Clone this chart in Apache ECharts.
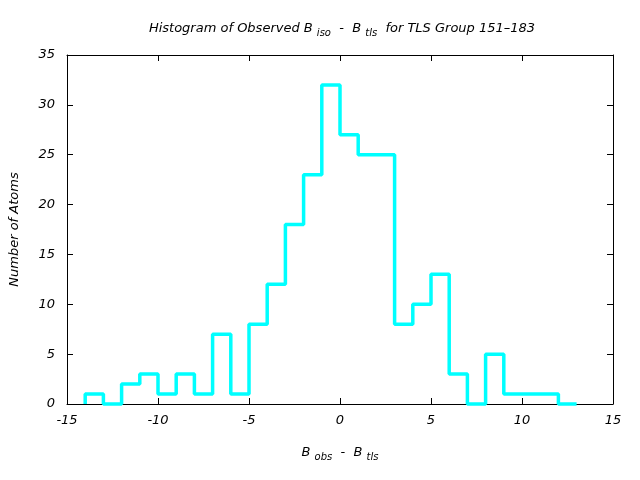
<!DOCTYPE html>
<html>
<head>
<meta charset="utf-8">
<script src="https://cdn.jsdelivr.net/npm/echarts@6/dist/echarts.min.js"></script>
<style>html,body{margin:0;padding:0;background:#fff}#c{width:640px;height:480px}</style>
</head>
<body>
<div id="c"></div>
<script>
// Bin left edges (width 1) and counts
var binEdges = [-14,-13,-12,-11,-10,-9,-8,-7,-6,-5,-4,-3,-2,-1,0,1,2,3,4,5,6,7,8,9,10,11,12];
var counts   = [1,0,2,3,1,3,1,7,1,8,12,18,23,32,27,25,25,8,10,13,3,0,5,1,1,1,0];
var xTicks = [-15,-10,-5,0,5,10,15];
var yTicks = [0,5,10,15,20,25,30,35];

var pts = [[binEdges[0], 0]];
for (var i = 0; i < binEdges.length; i++) {
  pts.push([binEdges[i] + 1, counts[i]]);
}

var font = 'DejaVu Sans';
var chart = echarts.init(document.getElementById('c'));
var axisCommon = {
  type: 'value',
  axisLine: {show: true, onZero: false, lineStyle: {color: '#000', width: 1}},
  axisTick: {show: true, inside: true, length: 6, lineStyle: {color: '#000'}},
  splitLine: {show: false}
};
var subStyles = {
  t: {fontFamily: font, fontStyle: 'italic', fontWeight: 'normal', fontSize: 13, color: '#000'},
  s: {fontFamily: font, fontStyle: 'italic', fontWeight: 'normal', fontSize: 10, color: '#000', padding: [8, 0, 0, 0]}
};
chart.setOption({
  animation: false,
  backgroundColor: '#fff',
  title: {
    text: '{t|Histogram of Observed B }{s|iso}{t|  -  B }{s|tls}{t|  for TLS Group 151\u2013183}',
    left: 337, top: 15, textAlign: 'center',
    textStyle: {fontWeight: 'normal', rich: subStyles}
  },
  grid: {left: 67, right: 27, top: 55, bottom: 76, containLabel: false, outerBoundsMode: 'none'},
  xAxis: [
    Object.assign({}, axisCommon, {
      min: -15, max: 15, interval: 5, position: 'bottom',
      axisLabel: {show: true, fontFamily: font, fontStyle: 'italic', fontSize: 13, color: '#000', margin: 10,
        formatter: function (v) { return xTicks.indexOf(v) >= 0 ? String(v) : ''; }},
      name: '{t|B }{s|obs}{t|  -  B }{s|tls}',
      nameLocation: 'middle', nameGap: 40,
      nameTextStyle: {rich: subStyles}
    }),
    Object.assign({}, axisCommon, {min: -15, max: 15, interval: 5, position: 'top', axisLabel: {show: false}})
  ],
  yAxis: [
    Object.assign({}, axisCommon, {
      min: 0, max: 35, interval: 5, position: 'left',
      axisLabel: {show: true, fontFamily: font, fontStyle: 'italic', fontSize: 13, color: '#000', margin: 12,
        formatter: function (v) { return yTicks.indexOf(v) >= 0 ? String(v) : ''; }},
      name: 'Number of Atoms', nameLocation: 'middle', nameGap: 46, nameRotate: 90,
      nameTextStyle: {fontFamily: font, fontStyle: 'italic', fontSize: 13, color: '#000'}
    }),
    Object.assign({}, axisCommon, {min: 0, max: 35, interval: 5, position: 'right', axisLabel: {show: false}})
  ],
  series: [{
    type: 'line', step: 'start', data: pts, showSymbol: false, symbol: 'none',
    lineStyle: {color: '#00ffff', width: 3.5}, z: 10, clip: false
  }]
});
</script>
</body>
</html>
